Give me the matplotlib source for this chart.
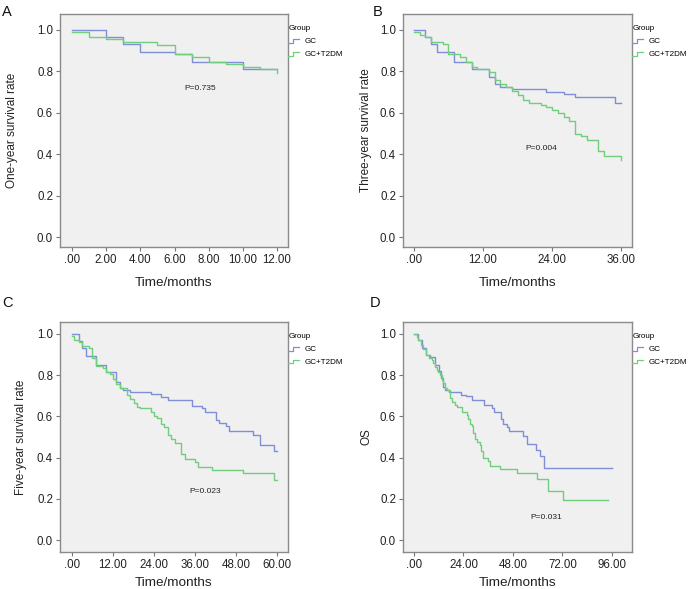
import matplotlib
matplotlib.use("Agg")
import matplotlib.pyplot as plt
from matplotlib.legend_handler import HandlerBase
from matplotlib.lines import Line2D

plt.rcParams['font.family'] = ['Liberation Sans', 'DejaVu Sans']

# survival steps (time, survival after step)
a_gc_t = [0, 2, 3, 4, 6, 7, 10, 12]
a_gc_s = [1.0, 0.965, 0.931, 0.894, 0.883, 0.847, 0.81, 0.81]
a_dm_t = [0, 1, 2, 3, 5, 6, 7, 8, 9, 10, 11, 12]
a_dm_s = [0.99, 0.966, 0.955, 0.94, 0.929, 0.883, 0.871, 0.847, 0.836, 0.823, 0.81, 0.79]

b_gc_t = [0, 2, 3, 4, 7, 10, 13, 14, 15, 17, 23, 26, 28, 35, 36]
b_gc_s = [1.0, 0.965, 0.932, 0.892, 0.847, 0.812, 0.774, 0.739, 0.726, 0.715, 0.702,
          0.689, 0.676, 0.649, 0.649]
b_dm_t = [0, 1, 2, 3, 5, 6, 8, 9, 10, 11, 13, 14, 15, 16, 17, 18, 19, 20, 22, 23, 24,
          25, 26, 27, 28, 29, 30, 32, 33, 36]
b_dm_s = [0.99, 0.976, 0.965, 0.942, 0.931, 0.882, 0.871, 0.847, 0.823, 0.811, 0.799,
          0.758, 0.739, 0.726, 0.705, 0.686, 0.662, 0.648, 0.637, 0.626, 0.613, 0.601,
          0.582, 0.56, 0.50, 0.487, 0.469, 0.417, 0.39, 0.37]

c_gc_t = [0, 2, 3, 4, 7, 10, 13, 14, 15, 17, 23, 26, 28, 35, 38, 39, 42, 43, 45, 46,
          53, 55, 59, 60]
c_gc_s = [1.0, 0.968, 0.93, 0.895, 0.85, 0.814, 0.768, 0.739, 0.728, 0.717, 0.707,
          0.696, 0.68, 0.652, 0.64, 0.62, 0.583, 0.567, 0.551, 0.53, 0.51, 0.461,
          0.432, 0.432]
c_dm_t = [0, 0.5, 2, 3, 5, 6, 7, 9, 10, 11, 12, 13, 14, 16, 17, 18, 19, 20, 23, 24,
          25, 26, 27, 28, 29, 30, 32, 33, 36, 37, 41, 50, 59, 60]
c_dm_s = [0.99, 0.971, 0.96, 0.943, 0.93, 0.885, 0.846, 0.833, 0.817, 0.804, 0.78,
          0.756, 0.736, 0.704, 0.684, 0.663, 0.647, 0.642, 0.62, 0.604, 0.591, 0.561,
          0.55, 0.51, 0.49, 0.469, 0.416, 0.393, 0.377, 0.356, 0.34, 0.324, 0.291,
          0.291]

d_gc_t = [0, 2, 4, 6, 8, 10, 12, 13, 14, 15, 17, 23, 25, 28, 34, 38, 39, 42, 43, 45,
          46, 53, 55, 59, 61, 63, 96]
d_gc_s = [1.0, 0.971, 0.934, 0.899, 0.886, 0.85, 0.818, 0.786, 0.745, 0.729, 0.718,
          0.705, 0.697, 0.681, 0.654, 0.641, 0.622, 0.585, 0.564, 0.548, 0.528, 0.504,
          0.464, 0.435, 0.408, 0.351, 0.351]
d_dm_t = [0, 1.3, 2.1, 3.2, 4.5, 6, 7.4, 8.6, 9.4, 10.2, 11, 11.8, 12.6, 13.4, 14.2,
          15, 16.2, 17.4, 18.2, 19.9, 20.7, 23.1, 25.5, 26.3, 27.1, 28, 28.8, 29.6,
          30.7, 32, 32.5, 33.3, 36, 36.8, 41.7, 50.1, 59.5, 65.1, 72.4, 94.2]
d_dm_s = [1.0, 0.987, 0.971, 0.947, 0.928, 0.899, 0.882, 0.874, 0.858, 0.842, 0.826,
          0.815, 0.802, 0.778, 0.762, 0.738, 0.729, 0.689, 0.67, 0.657, 0.644, 0.622,
          0.609, 0.585, 0.564, 0.552, 0.52, 0.488, 0.477, 0.461, 0.432, 0.4, 0.383,
          0.359, 0.343, 0.327, 0.295, 0.24, 0.193, 0.193]

groups = ["GC", "GC+T2DM"]
blue = "#7f8ed6"
green = "#6fcf7d"

panels = [
    ("A", "One-year survival rate", a_gc_t, a_gc_s, a_dm_t, a_dm_s,
     [0, 2, 4, 6, 8, 10, 12], (-0.7, 12.64), (1.077, -0.048), "P=0.735", (7.5, 0.715)),
    ("B", "Three-year survival rate", b_gc_t, b_gc_s, b_dm_t, b_dm_s,
     [0, 12, 24, 36], (-1.91, 37.9), (1.077, -0.048), "P=0.004", (22.2, 0.43)),
    ("C", "Five-year survival rate", c_gc_t, c_gc_s, c_dm_t, c_dm_s,
     [0, 12, 24, 36, 48, 60], (-3.51, 63.2), (1.058, -0.058), "P=0.023", (39.1, 0.236)),
    ("D", "OS", d_gc_t, d_gc_s, d_dm_t, d_dm_s,
     [0, 24, 48, 72, 96], (-5.33, 105.7), (1.058, -0.058), "P=0.031", (64, 0.111)),
]

boxes = [
    (0.0868, 0.5806, 0.330, 0.3956),
    (0.5832, 0.5806, 0.3314, 0.3956),
    (0.0868, 0.0628, 0.330, 0.3905),
    (0.5832, 0.0628, 0.3314, 0.3905),
]
letters_pos = [(0.003, 0.992), (0.539, 0.992), (0.003, 0.497), (0.535, 0.497)]
ylabelpads = [13.5, 6, 7, 5]
xlabelpads = [8.3, 8.3, 4.0, 4.0]


class StepHandler(HandlerBase):
    def create_artists(self, legend, orig, xd, yd, w, h, fontsize, trans):
        xs = [xd, xd + 0.45 * w, xd + 0.45 * w, xd + w]
        ys = [yd + 0.1 * h, yd + 0.1 * h, yd + 0.8 * h, yd + 0.8 * h]
        ln = Line2D(xs, ys, color=orig.get_color(), lw=0.9, transform=trans)
        return [ln]


fig = plt.figure(figsize=(6.91, 5.89), dpi=100)

for i, (p, box, lp) in enumerate(zip(panels, boxes, letters_pos)):
    letter, ylab, gt, gs, dt, ds, xt, xl, yl, ptxt, ppos = p
    ax = fig.add_axes(box)
    ax.set_facecolor("#f0f0f0")
    l1, = ax.plot(gt, gs, drawstyle="steps-post", color=blue, lw=1.0)
    l2, = ax.plot(dt, ds, drawstyle="steps-post", color=green, lw=1.0)
    ax.set_xlim(*xl)
    ax.set_ylim(yl[1], yl[0])
    ax.set_xticks(xt)
    ax.set_xticklabels([".00" if v == 0 else "%.2f" % v for v in xt])
    ax.set_yticks([0, 0.2, 0.4, 0.6, 0.8, 1.0])
    ax.set_yticklabels(["0.0", "0.2", "0.4", "0.6", "0.8", "1.0"])
    ax.tick_params(labelsize=8.3, length=3, width=0.8, color="#777777",
                   labelcolor="#222222", pad=2)
    for s in ax.spines.values():
        s.set_color("#8a8a8a")
        s.set_linewidth(1.0)
    ax.set_xlabel("Time/months", fontsize=9.7, color="#222222", labelpad=xlabelpads[i])
    ax.set_ylabel(ylab, fontsize=8.5, color="#222222", labelpad=ylabelpads[i])
    ax.text(ppos[0], ppos[1], ptxt, fontsize=6, ha="center", va="center", color="#222222")
    leg = ax.legend([l1, l2], groups, title="Group", loc="upper left",
                    bbox_to_anchor=(0.995, 0.958), frameon=False, fontsize=5.8,
                    title_fontsize=5.8, handlelength=1.3, handletextpad=0.7,
                    labelspacing=0.65, borderaxespad=0.0, borderpad=0.2,
                    handler_map={Line2D: StepHandler()})
    leg._legend_box.align = "left"
    fig.text(lp[0], lp[1], letter, fontsize=10.5, ha="left", va="top", color="#111111")

fig.savefig("out.png", dpi=100)
